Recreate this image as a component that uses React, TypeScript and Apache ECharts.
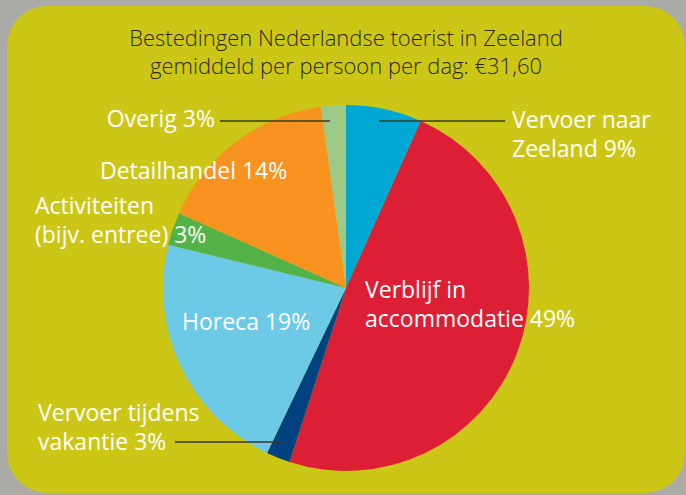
import React, { useEffect, useRef } from "react";
import * as echarts from "echarts";

const titleLines = [
  "Bestedingen Nederlandse toerist in Zeeland",
  "gemiddeld per persoon per dag: €31,60",
];
const categories = [
  "Vervoer naar Zeeland",
  "Verblijf in accommodatie",
  "Vervoer tijdens vakantie",
  "Horeca",
  "Activiteiten (bijv. entree)",
  "Detailhandel",
  "Overig",
];
// shares as drawn in the picture (%)
const shares = [6.7, 48.3, 2.1, 21.7, 2.9, 16.1, 2.2];
const labelLines = [
  ["Vervoer naar", "Zeeland 9%"],
  ["Verblijf in", "accommodatie 49%"],
  ["Vervoer tijdens", "vakantie 3%"],
  ["Horeca 19%"],
  ["Activiteiten", "(bijv. entree) 3%"],
  ["Detailhandel 14%"],
  ["Overig 3%"],
];
const colors = ["#00a7d3", "#dc1f34", "#00427f", "#6dcae6", "#53b247", "#f7931e", "#9cca88"];

// label layout: [x, first baseline, line gap, align]
const labelPos: [number, number, number, "left" | "right"][] = [
  [512, 128, 29, "left"],
  [365, 298, 29, "left"],
  [38, 421, 29, "left"],
  [182, 330, 0, "left"],
  [35, 214, 29, "left"],
  [100, 179, 0, "left"],
  [215, 127, 0, "right"],
];
const leaders = [
  [379, 121, 505, 121],
  [175, 442, 283, 442],
  [220, 121, 330, 121],
];

const FONT = "Open Sans";
const FS = 23;

export default function App() {
  const ref = useRef<HTMLDivElement>(null);
  useEffect(() => {
    if (!ref.current) return;
    const chart = echarts.init(ref.current, null, { renderer: "svg" });
    const graphics: any[] = [
      {
        type: "rect",
        z: -10,
        shape: { x: 7, y: 6, width: 678, height: 487, r: 40 },
        style: { fill: "#ccc716" },
        silent: true,
      },
    ];
    graphics.push({
      type: "text",
      z: 10,
      style: {
        x: 346,
        y: 51,
        text: titleLines.join("\n"),
        lineHeight: 28,
        fill: "#2a2a1c",
        font: `300 22px "${FONT}"`,
        textAlign: "center",
        textVerticalAlign: "middle",
      },
    });
    labelLines.forEach((lines, k) => {
      const [x, b, gap, align] = labelPos[k];
      const lastB = b + (lines.length - 1) * gap;
      graphics.push({
        type: "text",
        z: 10,
        style: {
          x,
          y: (b + lastB) / 2 - 0.37 * FS,
          text: lines.join("\n"),
          lineHeight: gap || FS,
          fill: "#ffffff",
          font: `400 ${FS}px "${FONT}"`,
          textAlign: align,
          textVerticalAlign: "middle",
        },
      });
    });
    leaders.forEach((l) => {
      graphics.push({
        type: "line",
        z: 10,
        shape: { x1: l[0], y1: l[1], x2: l[2], y2: l[3] },
        style: { stroke: "#3a3a2a", lineWidth: 1.6 },
      });
    });
    chart.setOption({
      animation: false,
      backgroundColor: "#aaaaa7",
      graphic: graphics,
      series: [
        {
          type: "pie",
          center: [346, 288],
          radius: 183,
          startAngle: 90,
          clockwise: true,
          label: { show: false },
          labelLine: { show: false },
          emphasis: { disabled: true },
          itemStyle: { borderWidth: 0 },
          data: categories.map((c, i) => ({
            name: c,
            value: shares[i],
            itemStyle: { color: colors[i] },
          })),
        },
      ],
    });
    return () => chart.dispose();
  }, []);
  return (
    <div style={{ position: "fixed", left: 0, top: 0, width: 686, height: 495 }}>
      <div ref={ref} style={{ width: 686, height: 495 }} />
    </div>
  );
}
